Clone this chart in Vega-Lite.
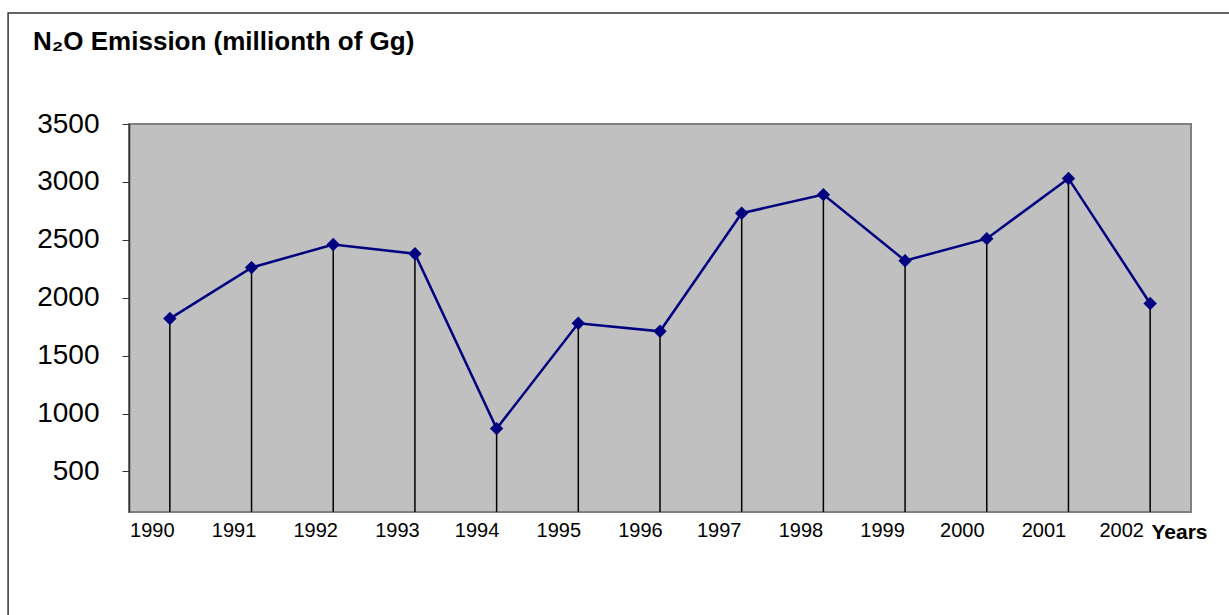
{
  "$schema": "https://vega.github.io/schema/vega-lite/v6.json",
  "width": 1062,
  "height": 388,
  "autosize": {"type": "none"},
  "padding": {"left": 129, "top": 124, "right": 38, "bottom": 103},
  "background": "white",
  "config": {
    "view": {"fill": "#C0C0C0", "stroke": "#808080", "strokeWidth": 2},
    "font": "Liberation Sans"
  },
  "title": {
    "text": "N₂O Emission (millionth of Gg)",
    "anchor": "start",
    "frame": "group",
    "dx": -96,
    "dy": 64,
    "offset": 0,
    "baseline": "alphabetic",
    "fontSize": 26,
    "fontWeight": "bold",
    "font": "Liberation Sans",
    "color": "black"
  },
  "data": {
    "values": [
      {"year": 1990, "value": 1820},
      {"year": 1991, "value": 2260},
      {"year": 1992, "value": 2460},
      {"year": 1993, "value": 2380},
      {"year": 1994, "value": 870},
      {"year": 1995, "value": 1780},
      {"year": 1996, "value": 1710},
      {"year": 1997, "value": 2730},
      {"year": 1998, "value": 2890},
      {"year": 1999, "value": 2320},
      {"year": 2000, "value": 2510},
      {"year": 2001, "value": 3030},
      {"year": 2002, "value": 1950}
    ]
  },
  "layer": [
    {
      "data": {"values": [{}]},
      "mark": {"type": "rect", "fill": "transparent", "stroke": "#333333", "strokeWidth": 1.5},
      "encoding": {
        "x": {"datum": 1988.02, "type": "quantitative"},
        "x2": {"datum": 2004},
        "y": {"datum": -1000, "type": "quantitative"},
        "y2": {"datum": 4458}
      }
    },
    {
      "mark": {"type": "rule", "color": "black", "strokeWidth": 1.5},
      "encoding": {
        "x": {"field": "year", "type": "quantitative"},
        "y": {"field": "value", "type": "quantitative"},
        "y2": {"datum": 150}
      }
    },
    {
      "mark": {"type": "line", "color": "#000080", "strokeWidth": 2.5},
      "encoding": {
        "x": {
          "field": "year",
          "type": "quantitative",
          "scale": {"domain": [1989.5, 2002.5], "nice": false, "zero": false},
          "axis": {
            "values": [1990, 1991, 1992, 1993, 1994, 1995, 1996, 1997, 1998, 1999, 2000, 2001, 2002],
            "format": "d",
            "grid": false,
            "ticks": false,
            "domain": false,
            "labelFontSize": 20,
            "labelColor": "black",
            "labelAlign": "center",
            "labelOffset": {
              "condition": [
                {"test": "datum.value >= 2002", "value": -29},
                {"test": "datum.value >= 2000", "value": -25},
                {"test": "datum.value >= 1997", "value": -23},
                {"test": "datum.value >= 1994", "value": -20}
              ],
              "value": -18
            },
            "labelPadding": 8,
            "labelFlush": false,
            "labelOverlap": false,
            "title": "Years",
            "titleFontSize": 21,
            "titleFontWeight": "bold",
            "titleColor": "black",
            "titleAngle": 0,
            "titleAlign": "right",
            "titleBaseline": "alphabetic",
            "titleX": 1078,
            "titleY": 26
          }
        },
        "y": {
          "field": "value",
          "type": "quantitative",
          "scale": {"domain": [150, 3500], "nice": false, "zero": false},
          "axis": {
            "values": [500, 1000, 1500, 2000, 2500, 3000, 3500],
            "format": "d",
            "grid": false,
            "tickSize": 7,
            "tickColor": "#333333",
            "domainColor": "#333333",
            "domainWidth": 1.5,
            "labelFontSize": 28,
            "labelColor": "black",
            "labelPadding": 23,
            "title": null
          }
        }
      }
    },
    {
      "mark": {"type": "point", "shape": "diamond", "filled": true, "size": 180, "color": "#000080", "opacity": 1},
      "encoding": {
        "x": {"field": "year", "type": "quantitative"},
        "y": {"field": "value", "type": "quantitative"}
      }
    }
  ]
}
